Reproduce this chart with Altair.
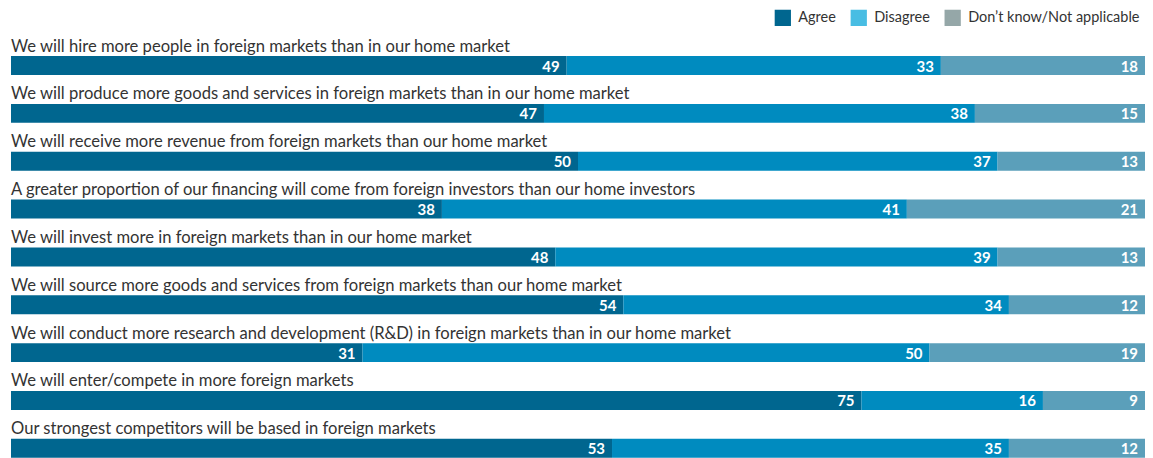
import altair as alt
import pandas as pd

statements = [
    "We will hire more people in foreign markets than in our home market",
    "We will produce more goods and services in foreign markets than in our home market",
    "We will receive more revenue from foreign markets than our home market",
    "A greater proportion of our financing will come from foreign investors than our home investors",
    "We will invest more in foreign markets than in our home market",
    "We will source more goods and services from foreign markets than our home market",
    "We will conduct more research and development (R&D) in foreign markets than in our home market",
    "We will enter/compete in more foreign markets",
    "Our strongest competitors will be based in foreign markets",
]
agree = [49, 47, 50, 38, 48, 54, 31, 75, 53]
disagree = [33, 38, 37, 41, 39, 34, 50, 16, 35]
dont_know = [18, 15, 13, 21, 13, 12, 19, 9, 12]
categories = ["Agree", "Disagree", "Don\u2019t know/Not applicable"]
bar_colors = ["#00668f", "#008bbf", "#5b9fba"]
legend_colors = ["#00668f", "#48bde3", "#95a7a8"]

rows = []
for i, s in enumerate(statements):
    cum = 0
    for cat, vals in zip(categories, [agree, disagree, dont_know]):
        v = vals[i]
        rows.append(dict(statement=s, category=cat, value=v, start=cum, end=cum + v))
        cum += v
df = pd.DataFrame(rows)
sdf = pd.DataFrame({"statement": statements, "zero": [0] * len(statements)})

W, H = 1135, 450
FONT = "Lato"


def xenc(field):
    return alt.X(field, type="quantitative", axis=None,
                 scale=alt.Scale(domain=[0, 100], nice=False, zero=True))


def yenc():
    return alt.Y("statement", type="nominal", axis=None,
                 scale=alt.Scale(domain=statements, paddingInner=29 / 48, paddingOuter=0.5, align=1))


bars = alt.Chart(df).mark_bar().encode(
    x=xenc("start"),
    x2="end:Q",
    y=yenc(),
    color=alt.Color("category:N", scale=alt.Scale(domain=categories, range=bar_colors), legend=None),
)

legend_src = alt.Chart(df).mark_square(opacity=0, size=1).encode(
    x=xenc("start"),
    y=yenc(),
    fill=alt.Fill(
        "category:N",
        scale=alt.Scale(domain=categories, range=legend_colors),
        legend=alt.Legend(
            title=None, orient="none", legendX=764, legendY=1, direction="horizontal",
            symbolType="square", symbolSize=265, symbolOpacity=1, symbolStrokeWidth=0,
            labelFont=FONT, labelFontSize=14.5, labelColor="#333333", labelOffset=7,
            labelLimit=0, columnPadding=14, padding=0,
        ),
    ),
)

vals = alt.Chart(df).mark_text(
    align="right", baseline="alphabetic", dx=-7, dy=6, color="white",
    font=FONT, fontWeight="bold", fontSize=15,
).encode(
    x=xenc("end"),
    y=yenc(),
    text="value:Q",
)

labels = alt.Chart(sdf).mark_text(
    align="left", baseline="alphabetic", dy=-14, color="#333333",
    font=FONT, fontSize=16.6,
).encode(
    x=xenc("zero"),
    y=yenc(),
    text="statement:N",
)

chart = alt.layer(legend_src, bars, vals, labels).properties(
    width=W, height=H,
    padding={"left": 2, "top": 0, "right": 0, "bottom": 0},
).configure_view(stroke=None)

chart.save("out.html", embed_options={"renderer": "svg", "actions": False})
